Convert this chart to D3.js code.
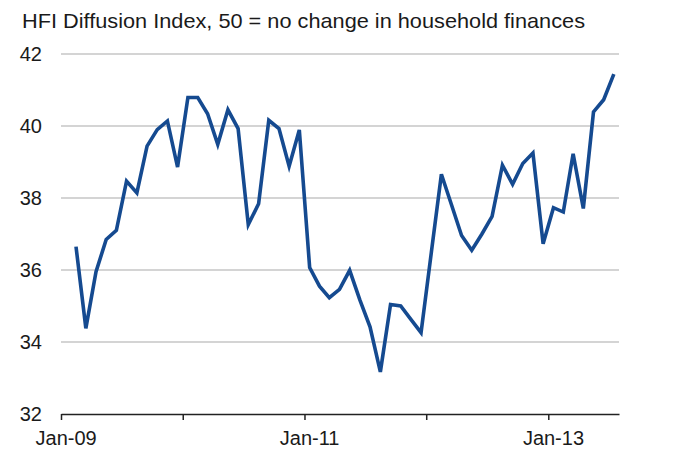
<!DOCTYPE html>
<html>
<head>
<meta charset="utf-8">
<script src="https://cdn.jsdelivr.net/npm/d3@7"></script>
<style>
  html, body { margin: 0; padding: 0; background: #fff; }
  svg { display: block; }
  text { font-family: "Liberation Sans", Arial, sans-serif; fill: #1a1a1a; }
</style>
</head>
<body>
<svg id="chart" width="677" height="450"></svg>
<script>
// Monthly HFI diffusion index, Feb-09 .. Jul-13
const months = [
  "Feb-09","Mar-09","Apr-09","May-09","Jun-09","Jul-09","Aug-09","Sep-09","Oct-09","Nov-09","Dec-09",
  "Jan-10","Feb-10","Mar-10","Apr-10","May-10","Jun-10","Jul-10","Aug-10","Sep-10","Oct-10","Nov-10","Dec-10",
  "Jan-11","Feb-11","Mar-11","Apr-11","May-11","Jun-11","Jul-11","Aug-11","Sep-11","Oct-11","Nov-11","Dec-11",
  "Jan-12","Feb-12","Mar-12","Apr-12","May-12","Jun-12","Jul-12","Aug-12","Sep-12","Oct-12","Nov-12","Dec-12",
  "Jan-13","Feb-13","Mar-13","Apr-13","May-13","Jun-13","Jul-13"
];
const hfiValues = [
  36.65, 34.38, 35.95, 36.85, 37.10, 38.47, 38.14, 39.44, 39.90, 40.14, 38.86,
  40.79, 40.79, 40.34, 39.49, 40.45, 39.93, 37.26, 37.84, 40.16, 39.93, 38.88, 39.89,
  36.07, 35.55, 35.23, 35.46, 35.99, 35.17, 34.42, 33.17, 35.04, 35.00, 34.63, 34.26,
  36.50, 38.66, 37.82, 36.96, 36.55, 37.00, 37.49, 38.91, 38.38, 38.96, 39.25, 36.73,
  37.73, 37.61, 39.23, 37.71, 40.39, 40.73, 41.44
];
const yTicks = [32, 34, 36, 38, 40, 42];
const xTickMonths = ["Jan-09", "Jan-10", "Jan-11", "Jan-12", "Jan-13"];
const xLabelMonths = ["Jan-09", "Jan-11", "Jan-13"];
const titleText = "HFI Diffusion Index, 50 = no change in household finances";

const parseMonth = d3.timeParse("%b-%y");
const data = months.map((m, i) => ({ date: parseMonth(m), value: hfiValues[i] }));

const svg = d3.select("#chart");

const x = d3.scaleTime()
  .domain([parseMonth("Jan-09"), parseMonth("Aug-13")])
  .range([61, 619]);
const y = d3.scaleLinear().domain([32, 42]).range([414, 54]);

// each monthly value sits in the middle of its month
const midMonth = d => (x(d) + x(d3.timeMonth.offset(d, 1))) / 2;

// horizontal gridlines
svg.append("g")
  .selectAll("line")
  .data(yTicks.filter(t => t > 32))
  .join("line")
  .attr("x1", x.range()[0]).attr("x2", x.range()[1])
  .attr("y1", d => y(d)).attr("y2", d => y(d))
  .attr("stroke", "#c6c6c6").attr("stroke-width", 1.5);

// y tick labels
svg.append("g")
  .selectAll("text")
  .data(yTicks)
  .join("text")
  .attr("x", 42)
  .attr("y", d => y(d))
  .attr("dy", "0.37em")
  .attr("text-anchor", "end")
  .attr("font-size", 20)
  .text(d => d);

// x axis with yearly tick marks
const xAxis = d3.axisBottom(x)
  .tickValues(xTickMonths.map(parseMonth))
  .tickSize(6)
  .tickSizeOuter(0)
  .tickFormat("");
const gx = svg.append("g")
  .attr("transform", `translate(0,${y(32)})`)
  .call(xAxis);
gx.select(".domain").attr("stroke", "#222").attr("stroke-width", 1.5);
gx.selectAll(".tick line").attr("stroke", "#222").attr("stroke-width", 1.5);

// x labels every two years, centred on the January slot
svg.append("g")
  .selectAll("text")
  .data(xLabelMonths)
  .join("text")
  .attr("x", d => midMonth(parseMonth(d)))
  .attr("y", 445)
  .attr("text-anchor", "middle")
  .attr("font-size", 20)
  .text(d => d);

// the index line
const line = d3.line()
  .x(d => midMonth(d.date))
  .y(d => y(d.value));
svg.append("path")
  .datum(data)
  .attr("d", line)
  .attr("fill", "none")
  .attr("stroke", "#154a90")
  .attr("stroke-width", 3.6)
  .attr("stroke-linejoin", "miter")
  .attr("stroke-miterlimit", 4);

// title
svg.append("text")
  .attr("x", 22)
  .attr("y", 28)
  .attr("font-size", 21)
  .attr("textLength", 563)
  .attr("lengthAdjust", "spacingAndGlyphs")
  .text(titleText);
</script>
</body>
</html>
